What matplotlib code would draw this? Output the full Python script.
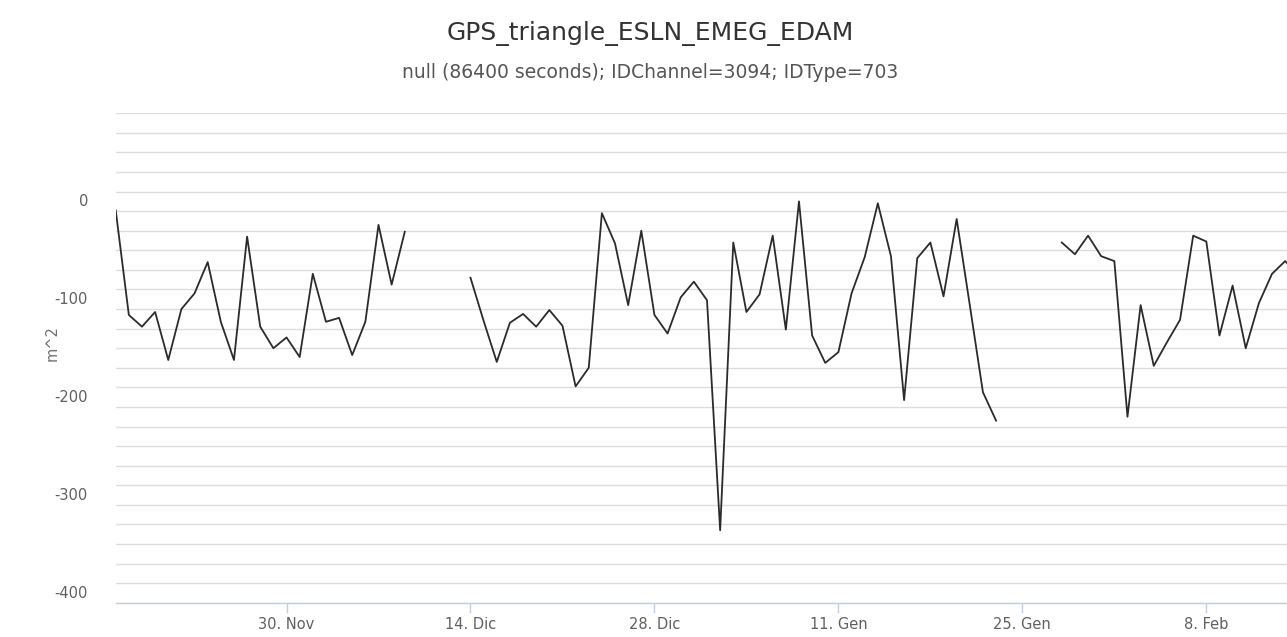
import numpy as np
import pandas as pd
import matplotlib
matplotlib.use('Agg')
import matplotlib.pyplot as plt

# daily values (m^2), NaN where there is no data
start_date = '2015-11-17'
seg1 = [-19, -126, -138, -123, -172, -120, -104, -72, -133, -172, -46, -138,
        -160, -149, -169, -84, -133, -129, -167, -133, -34, -95, -41]
gap1 = [np.nan] * 4
seg2 = [-88, -132, -174, -134, -125, -138, -121, -137, -199, -180, -22, -53,
        -116, -40, -126, -145, -108, -92, -111, -346, -52, -123, -105, -45,
        -141, -10, -147, -175, -164, -104, -67, -12, -66, -213, -68, -52,
        -107, -28, -116, -205, -234]
gap2 = [np.nan] * 4
seg3 = [-52, -64, -45, -66, -71, -230, -116, -178, -154, -131, -45, -51,
        -147, -96, -160, -114, -84, -71, -85]

values = seg1 + gap1 + seg2 + gap2 + seg3
dates = pd.date_range(start_date, periods=len(values), freq='D')

tick_dates = ['2015-11-30', '2015-12-14', '2015-12-28', '2016-01-11', '2016-01-25', '2016-02-08']
tick_labels = ['30. Nov', '14. Dic', '28. Dic', '11. Gen', '25. Gen', '8. Feb']
y_labels = [0, -100, -200, -300, -400]

title = 'GPS_triangle_ESLN_EMEG_EDAM'
subtitle = 'null (86400 seconds); IDChannel=3094; IDType=703'

W, H = 1287, 637
fig = plt.figure(figsize=(W / 100, H / 100), dpi=100)
ax = fig.add_axes([115.7 / W, 34.3 / H, 1171.3 / W, 489.4 / H])

ax.plot(dates, values, color='#2b2b2b', lw=1.3)

# axes ranges
x0 = pd.Timestamp(start_date)
ax.set_xlim(x0, x0 + pd.Timedelta(days=89.14))
ax.set_ylim(-420, 80)

# horizontal grid every 20, labels every 100 sitting a bit below their line
ax.set_yticks(np.arange(-420, 81, 20))
ax.yaxis.grid(True, color='#dcdcdc', lw=1)
ax.set_axisbelow(True)
ax.tick_params(axis='y', left=False, labelleft=False)
for v in y_labels:
    ax.annotate(str(v), xy=(0, v), xycoords=('axes fraction', 'data'),
                xytext=(-20, -7.2), textcoords='offset points',
                ha='right', va='center', fontsize=10.5, color='#606060')

ax.set_xticks(pd.to_datetime(tick_dates))
ax.set_xticklabels(tick_labels)
ax.tick_params(axis='x', length=7, width=1, color='#c0d0e0',
               labelsize=10.5, labelcolor='#606060', pad=3)

for s in ['top', 'right', 'left']:
    ax.spines[s].set_visible(False)
ax.spines['bottom'].set_color('#c0d0e0')
ax.spines['bottom'].set_linewidth(1)

ax.annotate('m^2', xy=(0, 0.53), xycoords='axes fraction', xytext=(-46, 0),
            textcoords='offset points', rotation=90, ha='center', va='center',
            fontsize=10.5, color='#707070')

fig.text(650 / W, 1 - 33 / H, title, ha='center', va='center',
         fontsize=18, color='#333333')
fig.text(650 / W, 1 - 72 / H, subtitle, ha='center', va='center',
         fontsize=13.5, color='#555555')

fig.savefig('out.png', dpi=100)
